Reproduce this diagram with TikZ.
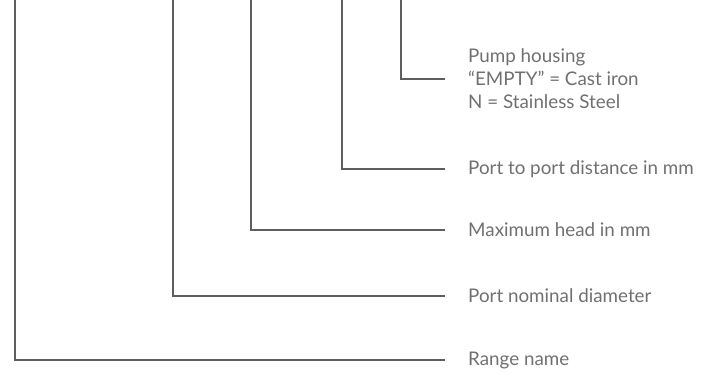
\documentclass[tikz,border=0pt]{standalone}
\usepackage{fontspec}
\setmainfont{Lato}
\usepackage{tikz}

\definecolor{leadgray}{HTML}{5E5E5E}
\definecolor{textgray}{HTML}{707070}

\tikzset{
  lbl/.style={anchor=west, inner sep=0pt, align=left, text=textgray,
    font=\fontsize{18.8}{23}\selectfont},
  leader/.style={draw=leadgray, line width=1.6pt}
}

\begin{document}
\begin{tikzpicture}[x=1pt, y=-1pt]
\useasboundingbox (0,0) rectangle (703,379);
\node[lbl] (housing) at (468,79) {Pump housing\\``EMPTY'' = Cast iron\\N = Stainless Steel};
\node[lbl] (distance) at (468,169) {Port to port distance in mm};
\node[lbl] (head) at (468,230) {Maximum head in mm};
\node[lbl] (nominal) at (468,296) {Port nominal diameter};
\node[lbl] (range) at (468,360) {Range name};
\foreach \x/\n in {15/range, 173/nominal, 251/head, 342/distance, 401/housing}{
    \coordinate (\n-top) at (\x,-2);
    \draw[leader] (\n-top) |- ([xshift=-23pt]\n.west);
}
\end{tikzpicture}
\end{document}
